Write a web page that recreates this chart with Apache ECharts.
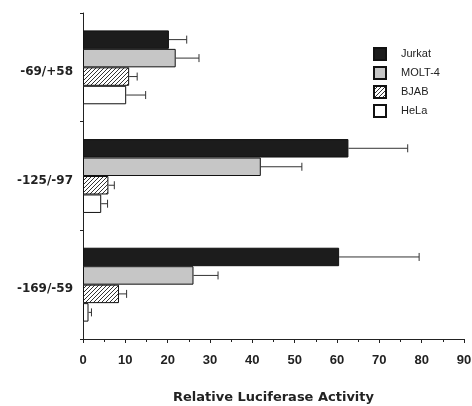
<!DOCTYPE html>
<html><head><meta charset="utf-8">
<script src="https://cdn.jsdelivr.net/npm/echarts@6/dist/echarts.min.js"></script>
<style>html,body{margin:0;padding:0;background:#fff}#c{width:472px;height:406px}</style>
</head><body><div id="c"></div>
<script>
var categories = ['-69/+58', '-125/-97', '-169/-59'];
var seriesNames = ['Jurkat', 'MOLT-4', 'BJAB', 'HeLa'];
var jurkat = [20.3, 62.7, 60.5];
var molt4 = [21.9, 42.0, 26.1];
var bjab = [10.9, 6.0, 8.5];
var hela = [10.2, 4.3, 1.3];
var jurkatErr = [4.2, 14.0, 18.9];
var molt4Err = [5.5, 9.7, 5.8];
var bjabErr = [1.9, 1.4, 1.8];
var helaErr = [4.6, 1.5, 0.7];
var xTicks = [0, 10, 20, 30, 40, 50, 60, 70, 80, 90];

var values = [jurkat, molt4, bjab, hela];
var errs = [jurkatErr, molt4Err, bjabErr, helaErr];

// hatch pattern
var pc = document.createElement('canvas');
pc.width = 4; pc.height = 4;
var g = pc.getContext('2d');
g.fillStyle = '#fff'; g.fillRect(0, 0, 4, 4);
g.strokeStyle = '#333'; g.lineWidth = 1;
g.beginPath();
g.moveTo(0, 4); g.lineTo(4, 0);
g.moveTo(-1, 1); g.lineTo(1, -1);
g.moveTo(3, 5); g.lineTo(5, 3);
g.stroke();

var fills = ['#1c1c1c', '#c6c6c6', {image: pc, repeat: 'repeat'}, '#ffffff'];
var gapRatio = 0.32;
var font = 'Liberation Sans, Arial, sans-serif';
var boldFont = 'DejaVu Sans, sans-serif';

var series = [];
seriesNames.forEach(function (name, i) {
  series.push({
    name: name, type: 'bar', data: values[i],
    barGap: '0%', barCategoryGap: '32%',
    itemStyle: {color: fills[i], borderColor: '#111', borderWidth: 1},
    emphasis: {disabled: true}, animation: false
  });
});
seriesNames.forEach(function (name, i) {
  series.push({
    type: 'custom', name: name + ' err', z: 5, clip: false, animation: false,
    dimensions: ['v', 'c', 'e'],
    encode: {x: [0, 2], y: 1},
    data: values[i].map(function (v, k) { return [v, k, v + errs[i][k]]; }),
    renderItem: function (params, api) {
      var c = api.value(1);
      var p0 = api.coord([api.value(0), c]);
      var p1 = api.coord([api.value(2), c]);
      var band = api.size([0, 1])[1];
      var bw = band * (1 - gapRatio) / 4;
      var y = p0[1] - band * (1 - gapRatio) / 2 + bw * (i + 0.5);
      var st = {stroke: '#333', lineWidth: 1};
      return {type: 'group', children: [
        {type: 'line', shape: {x1: p0[0], y1: y, x2: p1[0], y2: y}, style: st},
        {type: 'line', shape: {x1: p1[0], y1: y - 4, x2: p1[0], y2: y + 4}, style: st}
      ]};
    }
  });
});

var chart = echarts.init(document.getElementById('c'));
chart.setOption({
  backgroundColor: '#fff',
  animation: false,
  grid: {left: 83, right: 8, top: 13, bottom: 67, containLabel: false, outerBoundsMode: 'none'},
  legend: {
    data: seriesNames, orient: 'vertical', left: 368, top: 42,
    itemWidth: 12, itemHeight: 12, itemGap: 5, icon: 'rect',
    textStyle: {fontFamily: font, fontSize: 11, color: '#222', padding: [0, 0, 0, 10]}
  },
  xAxis: {
    type: 'value', min: 0, max: 90, interval: 10,
    axisLine: {show: true, lineStyle: {color: '#222', width: 1}},
    axisTick: {show: true, length: 4, lineStyle: {color: '#222'}},
    minorTick: {show: true, splitNumber: 2, length: 3, lineStyle: {color: '#222'}},
    splitLine: {show: false},
    axisLabel: {
      margin: 15, fontFamily: font, fontSize: 13, fontWeight: 'bold', color: '#222',
      formatter: function (v) { return xTicks.indexOf(v) >= 0 ? String(v) : ''; }
    },
    name: 'Relative Luciferase Activity', nameLocation: 'middle', nameGap: 52,
    nameTextStyle: {fontFamily: boldFont, fontSize: 13, fontWeight: 'bold', color: '#222'}
  },
  yAxis: {
    type: 'category', data: categories, inverse: true,
    axisLine: {show: true, lineStyle: {color: '#222', width: 1}},
    axisTick: {show: true, length: 3, lineStyle: {color: '#222'}},
    axisLabel: {margin: 10, fontFamily: boldFont, fontSize: 12, fontWeight: 'bold', color: '#222',
      verticalAlign: 'top', lineHeight: 9}
  },
  series: series
});
</script></body></html>
